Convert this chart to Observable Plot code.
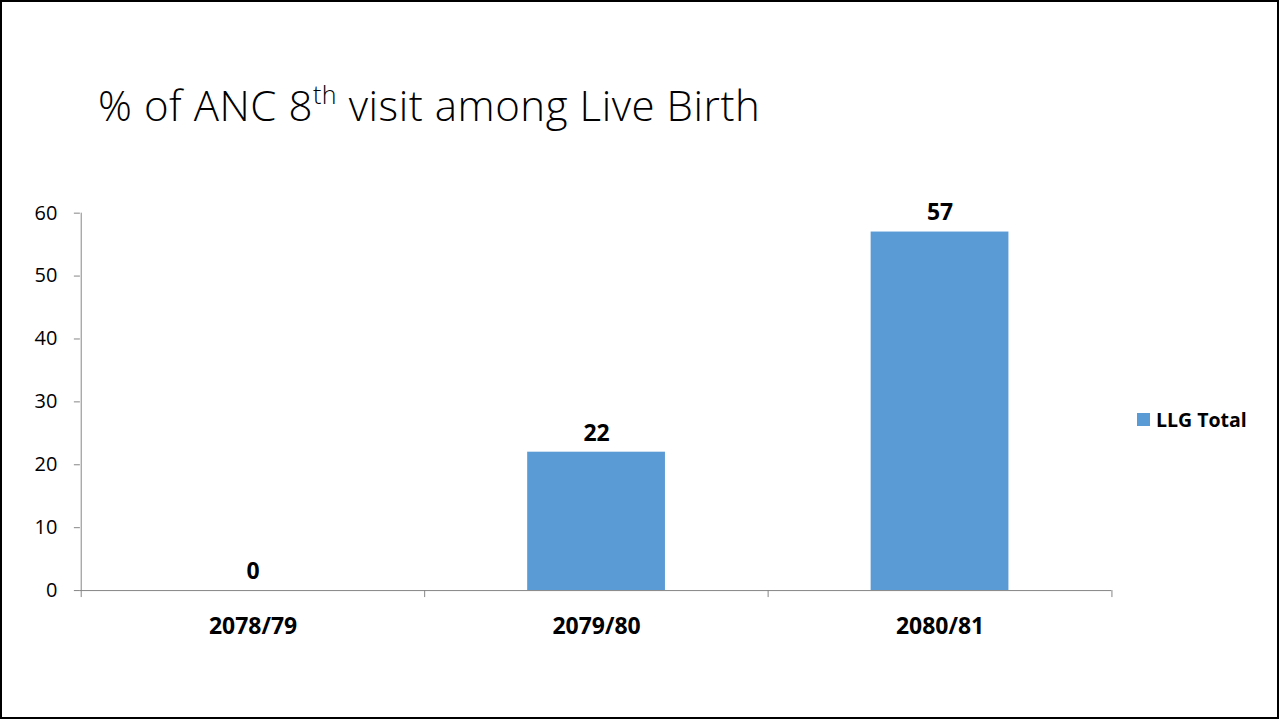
<!DOCTYPE html>
<html>
<head>
<meta charset="utf-8">
<script src="https://cdn.jsdelivr.net/npm/d3@7"></script>
<script src="https://cdn.jsdelivr.net/npm/@observablehq/plot@0.6"></script>
<style>
  html, body { margin: 0; padding: 0; background: #fff; }
  #frame { position: relative; width: 1275px; height: 715px; border: 2px solid #000; overflow: hidden; font-family: "Open Sans", sans-serif; }
  #title { position: absolute; left: 96px; top: 74px; font-size: 42px; font-weight: 300; color: #000; white-space: nowrap; letter-spacing: 0.55px; }
  #title sup { font-size: 25px; vertical-align: 0; position: relative; top: -17px; }
  #chart { position: absolute; left: -2px; top: -2px; }
  #legend { position: absolute; left: 1135px; top: 404px; font-size: 19.5px; font-weight: 700; display: flex; align-items: center; white-space: nowrap; }
  #legend .sw { width: 13px; height: 13px; background: #5B9BD5; margin-right: 6px; }
</style>
</head>
<body>
<div id="frame">
  <div id="title">% of ANC 8<sup>th</sup> visit among Live Birth</div>
  <div id="chart"></div>
  <div id="legend"><span class="sw"></span><span id="legendLabel"></span></div>
</div>
<script>
const years = ["2078/79", "2079/80", "2080/81"];
const values = [0, 22, 57];
const seriesName = "LLG Total";
const yTicks = [0, 10, 20, 30, 40, 50, 60];

const data = years.map((y, i) => ({year: y, value: values[i]}));
document.getElementById("legendLabel").textContent = seriesName;

const W = 1279, H = 719;
const mL = 80, mR = 166, mT = 213, mB = 128;
const step = (W - mL - mR) / years.length;
const axisGray = "#868686";

const plot = Plot.plot({
  width: W,
  height: H,
  marginLeft: mL,
  marginRight: mR,
  marginTop: mT,
  marginBottom: mB,
  style: {fontFamily: "'Open Sans', sans-serif", fontSize: "20px", background: "transparent", overflow: "visible"},
  x: {domain: years, paddingInner: 0.6, paddingOuter: 0.3, label: null},
  y: {domain: [0, 60], label: null},
  marks: [
    Plot.barY(data, {x: "year", y: "value", fill: "#5B9BD5"}),
    Plot.axisY({ticks: yTicks, tickSize: 6, text: null, stroke: axisGray, label: null}),
    Plot.axisY({ticks: yTicks, tickSize: 0, tickPadding: 23, fontSize: 20, fill: "#000", label: null}),
    Plot.ruleY([0], {stroke: axisGray}),
    Plot.ruleX(years.slice(0, 1), {x: d => d, y1: 60, y2: 0, dx: -step / 2, insetBottom: -7, stroke: axisGray}),
    Plot.ruleX(years.slice(1), {x: d => d, y1: 0, y2: 0, dx: -step / 2, insetBottom: -7, stroke: axisGray}),
    Plot.ruleX(years.slice(-1), {x: d => d, y1: 0, y2: 0, dx: step / 2, insetBottom: -7, stroke: axisGray}),
    Plot.axisX({tickSize: 0, tickPadding: 27, fontSize: 23, fontWeight: "bold", fill: "#000", label: null}),
    Plot.text(data, {x: "year", y: "value", text: d => String(d.value), dy: -19, fontSize: 23, fontWeight: "bold", fill: "#000"})
  ]
});
document.getElementById("chart").appendChild(plot);
</script>
</body>
</html>
